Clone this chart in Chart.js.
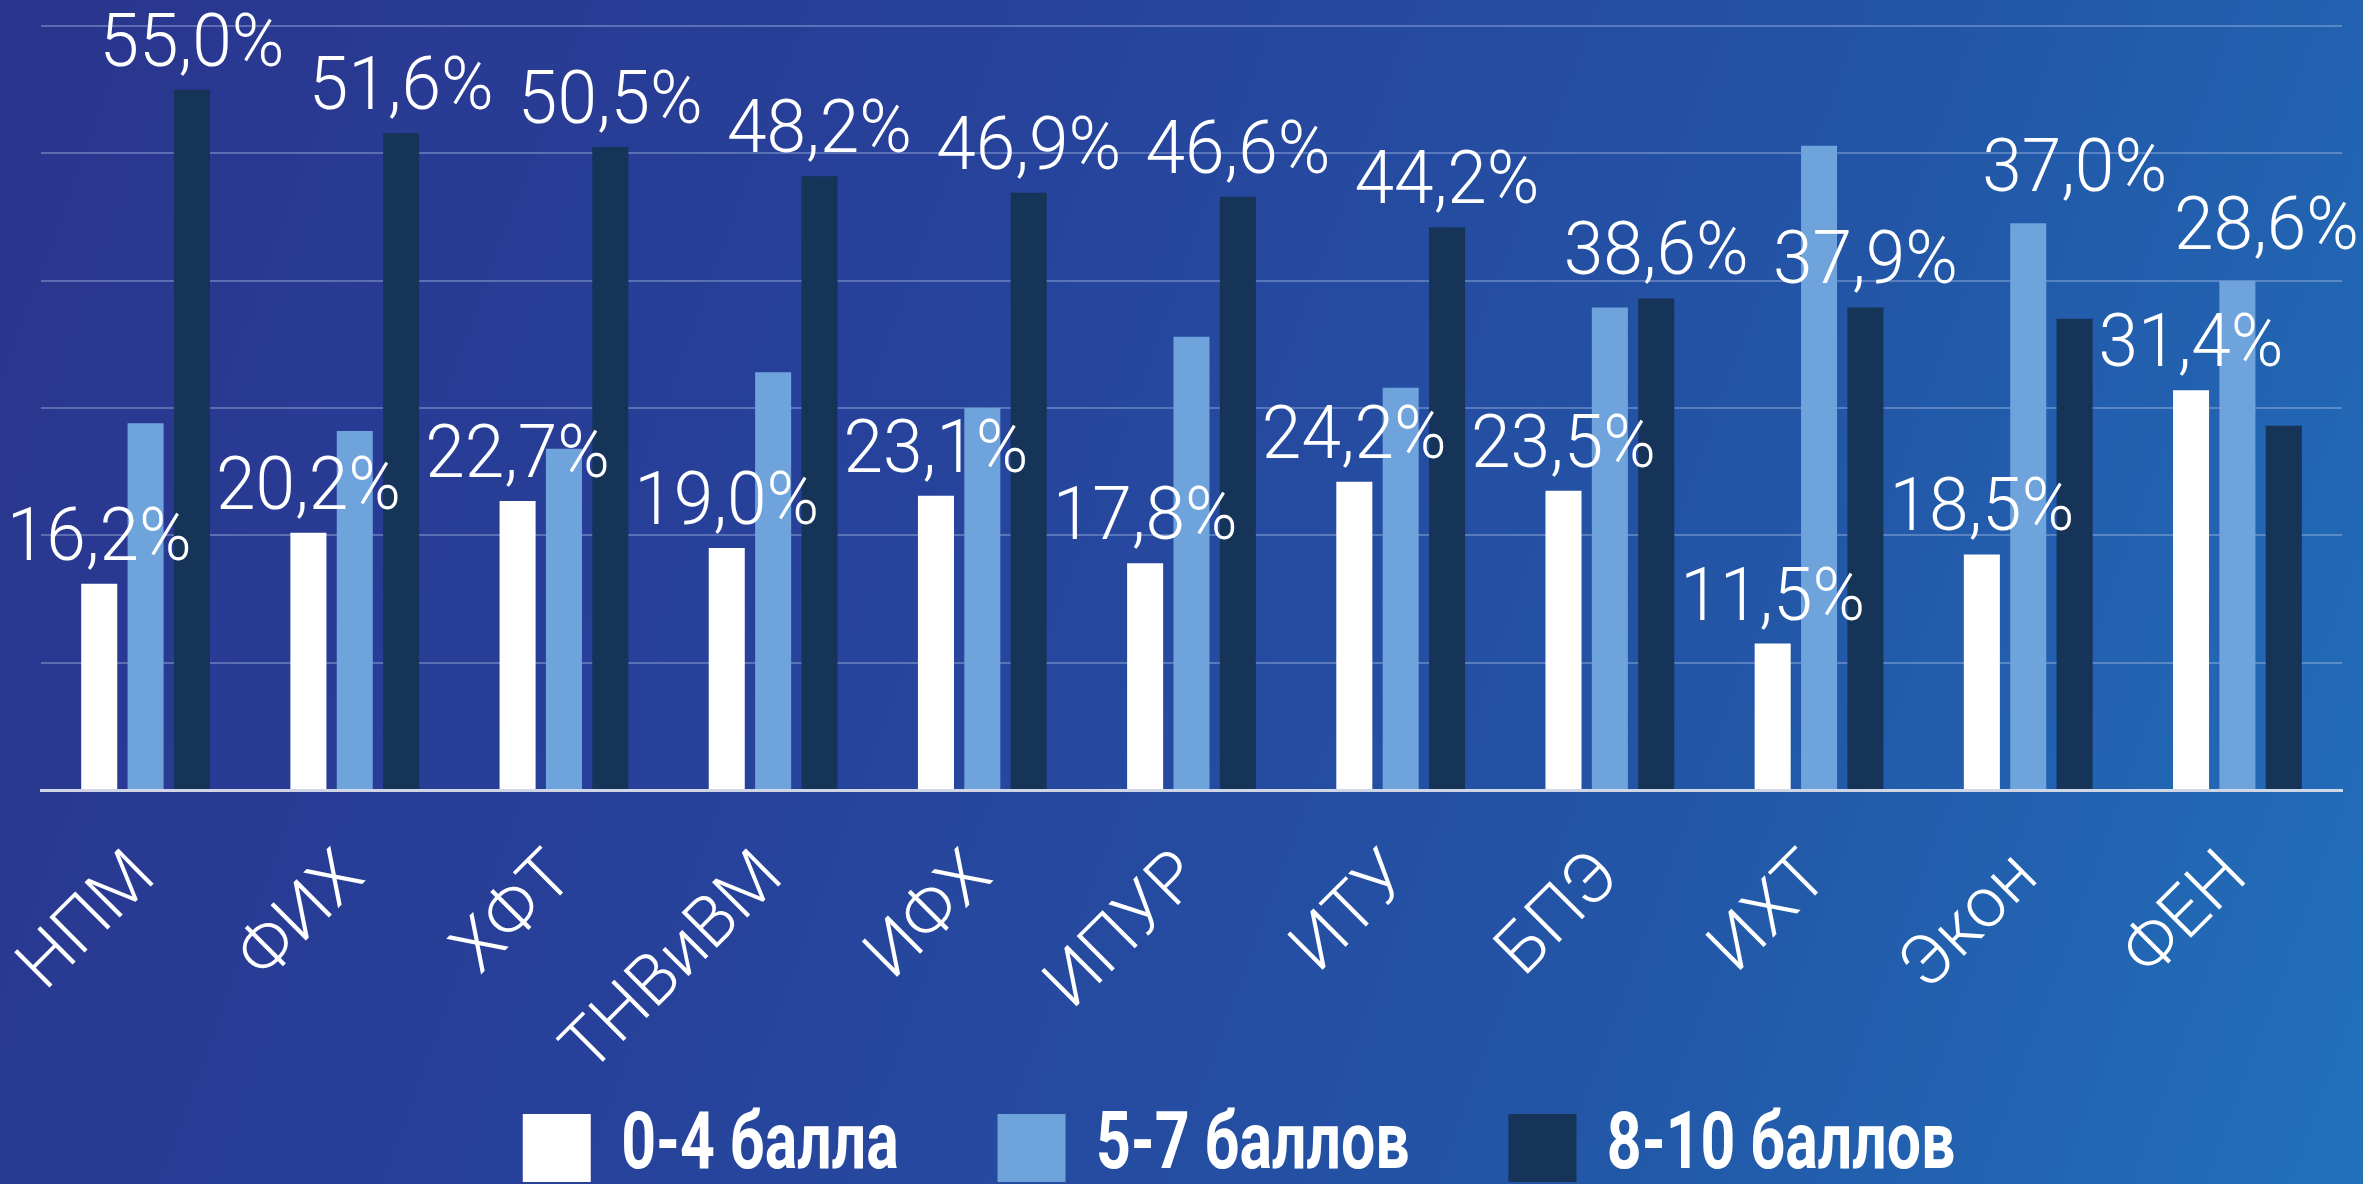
<!DOCTYPE html>
<html>
<head>
<meta charset="utf-8">
<script src="https://cdn.jsdelivr.net/npm/chart.js@4"></script>
<style>
    html, body { margin: 0; padding: 0; }
    body {
        width: 2363px; height: 1184px; overflow: hidden;
        background: linear-gradient(110deg, #2a358d 0%, #27419a 35%, #2355a6 70%, #2170bb 100%);
    }
    #wrap { width: 2363px; height: 1184px; position: relative; }
</style>
</head>
<body>
<div id="wrap"><canvas id="chart"></canvas></div>
<script>
const categories = ["НПМ", "ФИХ", "ХФТ", "ТНВиВМ", "ИФХ", "ИПУР", "ИТУ", "БПЭ", "ИХТ", "Экон", "ФЕН"];
const seriesNames = ["0-4 балла", "5-7 баллов", "8-10 баллов"];
const low = [16.2, 20.2, 22.7, 19.0, 23.1, 17.8, 24.2, 23.5, 11.5, 18.5, 31.4];
const mid = [28.8, 28.2, 26.8, 32.8, 30.0, 35.6, 31.6, 37.9, 50.6, 44.5, 40.0];
const high = [55.0, 51.6, 50.5, 48.2, 46.9, 46.6, 44.2, 38.6, 37.9, 37.0, 28.6];
const yTicks = [0, 10, 20, 30, 40, 50, 60];

const thinFont = "Roboto, 'DejaVu Sans Condensed', sans-serif";
const labelSqueeze = 0.95;   // the source face is a condensed one
const legendSqueeze = 0.76;

const fmt = (v) => v.toFixed(1).replace(".", ",") + "%";

// value labels over the white and dark bars (the middle bars carry none)
const pctLabels = {
    id: "pctLabels",
    afterDatasetsDraw(chart) {
        const ctx = chart.ctx;
        const m0 = chart.getDatasetMeta(0);
        const m1 = chart.getDatasetMeta(1);
        const m2 = chart.getDatasetMeta(2);
        ctx.save();
        ctx.fillStyle = "#ffffff";
        ctx.font = `300 75px ${thinFont}`;
        ctx.textAlign = "center";
        ctx.textBaseline = "alphabetic";
        const put = (text, x, y) => {
            const w = ctx.measureText(text).width * labelSqueeze;
            x = Math.min(x, chart.width - w / 2 - 4);
            ctx.save();
            ctx.translate(x, y);
            ctx.scale(labelSqueeze, 1);
            ctx.fillText(text, 0, 0);
            ctx.restore();
        };
        categories.forEach((c, i) => {
            put(fmt(low[i]), m0.data[i].x, m0.data[i].y - 24);
            // climb over the middle bar when it is only a little taller
            const over = mid[i] > high[i] && mid[i] - high[i] < 12;
            const top = over ? m1.data[i].y - 8 : m2.data[i].y;
            put(fmt(high[i]), m2.data[i].x, top - 24);
        });
        ctx.restore();
    }
};

// long rotated names hang below the axis box, and the legend is drawn narrower
const layoutTweaks = {
    id: "layoutTweaks",
    beforeDraw(chart) {
        chart.scales.x._computeLabelArea = () => undefined;
        const lg = chart.legend;
        if (lg && !lg._squeezed) {
            const draw = lg.draw.bind(lg);
            lg.draw = function (area) {
                const ctx = chart.ctx;
                const cx = chart.width / 2;
                ctx.save();
                ctx.translate(cx + 50, 0);
                ctx.scale(legendSqueeze, 1);
                ctx.translate(-cx, 0);
                draw(area);
                ctx.restore();
            };
            lg._squeezed = true;
        }
    }
};

const ds = (label, data, color) => ({
    label: label,
    data: data,
    backgroundColor: color,
    borderWidth: 0,
    categoryPercentage: 0.665,
    barPercentage: 0.777,
});

new Chart(document.getElementById("chart"), {
    type: "bar",
    data: {
        labels: categories,
        datasets: [
            ds(seriesNames[0], low, "#ffffff"),
            ds(seriesNames[1], mid, "#6fa3dc"),
            ds(seriesNames[2], high, "#163358"),
        ],
    },
    options: {
        responsive: true,
        maintainAspectRatio: false,
        animation: false,
        layout: { padding: { top: 26, left: 41, right: 21, bottom: -14 } },
        scales: {
            x: {
                grid: { display: false, drawTicks: false },
                border: { display: true, color: "rgba(215,220,232,0.95)", width: 3 },
                ticks: {
                    color: "#ffffff",
                    font: { family: thinFont, size: 70, weight: 300 },
                    minRotation: 45,
                    maxRotation: 45,
                    padding: 47,
                },
                afterFit(scale) {
                    scale.height = 188;
                    scale.paddingLeft = 0;
                    scale.paddingRight = 0;
                },
            },
            y: {
                min: yTicks[0],
                max: yTicks[yTicks.length - 1],
                ticks: { display: false, stepSize: yTicks[1] - yTicks[0] },
                grid: { color: "rgba(190,205,240,0.35)", lineWidth: 2, drawTicks: false },
                border: { display: false },
                afterFit(scale) { scale.width = 0; },
            },
        },
        plugins: {
            legend: {
                position: "bottom",
                labels: {
                    color: "#ffffff",
                    font: { family: thinFont, size: 80, weight: "bold" },
                    boxWidth: 68 / legendSqueeze,
                    boxHeight: 68,
                    padding: 130,
                },
            },
            tooltip: { enabled: false },
        },
    },
    plugins: [pctLabels, layoutTweaks],
});
</script>
</body>
</html>
